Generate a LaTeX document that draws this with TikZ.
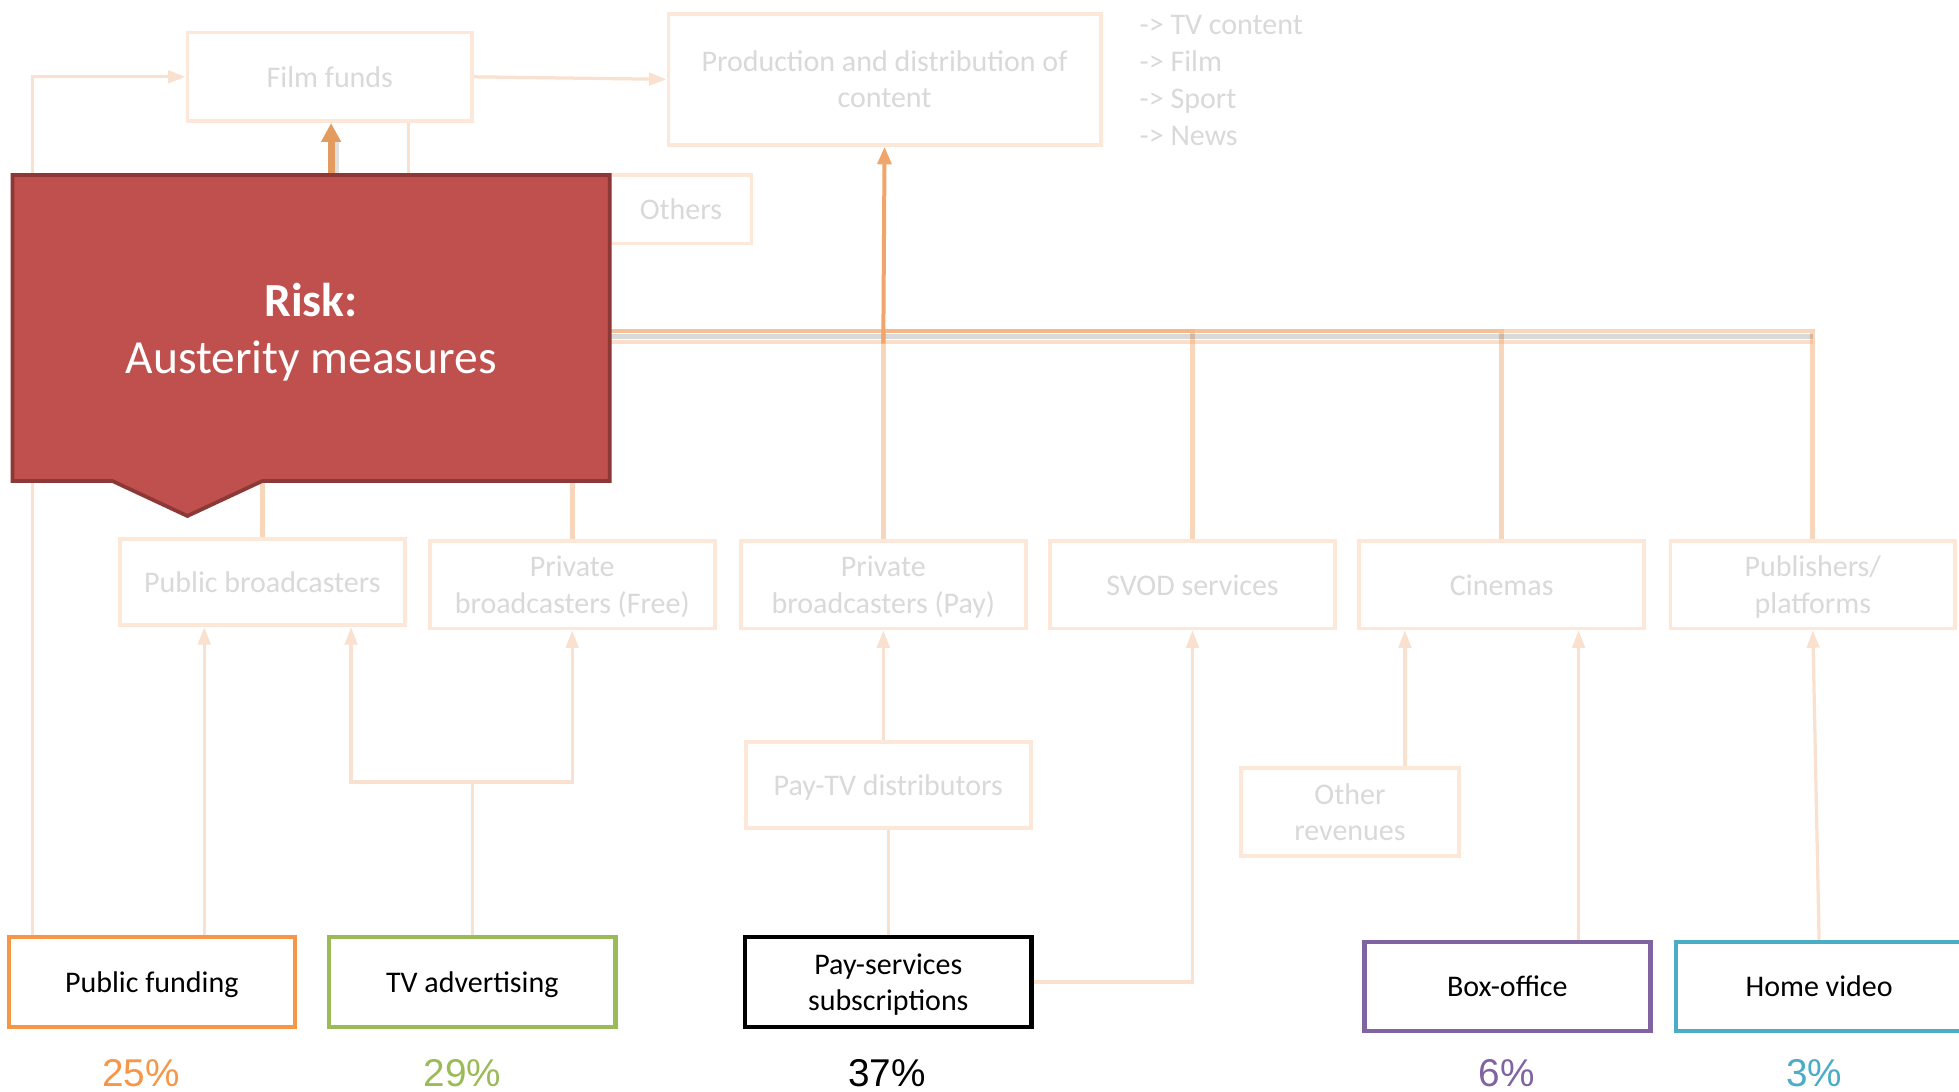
\documentclass[tikz,border=0pt]{standalone}
\usepackage{fontspec}
\setmainfont{Carlito}
\newfontfamily\pctfont{Liberation Sans}
\usetikzlibrary{arrows.meta,backgrounds}

\definecolor{riskfill}{HTML}{C0504D}
\definecolor{riskline}{HTML}{8C3836}
\definecolor{fadeline}{HTML}{FCE7D8}
\definecolor{fadetext}{HTML}{D9D9D9}
\definecolor{linklow}{HTML}{FAE0CE}
\definecolor{linktree}{HTML}{F2AD78}
\definecolor{linkhot}{HTML}{F2A56A}
\definecolor{linkfilm}{HTML}{E39B5F}
\definecolor{fundorange}{HTML}{F79646}
\definecolor{adgreen}{HTML}{9BBB59}
\definecolor{boxpurple}{HTML}{8064A2}
\definecolor{videoteal}{HTML}{4BACC6}

\begin{document}
\begin{tikzpicture}[x=1pt,y=-1pt,
  faded/.style={draw=fadeline, line width=3pt, fill=white, text=fadetext,
    align=center, minimum width=228pt, minimum height=70pt, inner sep=2pt,
    text depth=0pt, font=\fontsize{24}{29}\selectfont},
  srcbox/.style={line width=3.5pt, fill=white, text=black, align=center,
    minimum width=229pt, minimum height=72pt, inner sep=2pt,
    text depth=0pt, font=\fontsize{24}{29}\selectfont},
  pct/.style={font=\pctfont\fontsize{31}{36}\selectfont},
  lowlink/.style={draw=linklow, line width=2.6pt},
  lowarrow/.style={lowlink, -{Triangle[length=14pt,width=10pt]}},
  treelink/.style={draw=linktree, line width=3.8pt, opacity=0.5},
]
\useasboundingbox (0,0) rectangle (1568,874);
\clip (0,0) rectangle (1568,874);

% upper row: funding and production
\node[faded, minimum width=228pt, minimum height=71pt] (film) at (264,61.5) {Film funds};
\node[faded, minimum width=346pt, minimum height=105pt] (prod) at (708,63.5)
  {Production and distribution of\\content};
\node[anchor=west, text=fadetext, align=left, inner sep=0pt,
  font=\fontsize{24}{29.7}\selectfont] (genres) at (912,64.5)
  {-> TV content\\-> Film\\-> Sport\\-> News};
\node[faded, minimum width=113pt, minimum height=55pt] (others) at (545,167.5) {Others};

% middle row: broadcasters and outlets
\node[faded, minimum height=69pt] (pubb) at (210,466) {Public broadcasters};
\node[faded] (privfree) at (458,468) {Private\\broadcasters (Free)};
\node[faded] (privpay) at (707,468) {Private\\broadcasters (Pay)};
\node[faded] (svod) at (954.5,468) {SVOD services};
\node[faded] (cinemas) at (1202,468) {Cinemas};
\node[faded] (publ) at (1451,468) {Publishers/\\platforms};

\node[faded, minimum height=69pt] (paytv) at (711,628.5) {Pay-TV distributors};
\node[faded, minimum width=175pt] (otherrev) at (1080.5,650) {Other\\revenues};

% revenue sources
\node[srcbox, draw=fundorange] (pubfund) at (121.5,786) {Public funding};
\node[srcbox, draw=adgreen] (tvad) at (378,786) {TV advertising};
\node[srcbox, draw=black] (paysub) at (711,786) {Pay-services\\subscriptions};
\node[srcbox, draw=boxpurple, minimum height=71pt] (boxoff) at (1206.5,789.5) {Box-office};
\node[srcbox, draw=videoteal, minimum height=71pt] (homevid) at (1456,789.5) {Home video};

\node[pct, text=fundorange] (pfund) at (113,859) {25\%};
\node[pct, text=adgreen] (pad) at (370,859) {29\%};
\node[pct, text=black] (psub) at (710,859) {37\%};
\node[pct, text=boxpurple] (pbox) at (1206,859) {6\%};
\node[pct, text=videoteal] (pvid) at (1452,859) {3\%};

\coordinate (hub) at (707,265);
\coordinate (adhub) at (378,626);
\coordinate (ffsrc) at (265,215);

\begin{pgfonlayer}{background}
  % flows into production
  \draw[treelink] (pubb.north) |- (hub);
  \draw[treelink] (privfree.north) |- (hub);
  \draw[treelink] (privpay.north) -- (hub);
  \draw[treelink] (svod.north) |- (hub);
  \draw[treelink] (cinemas.north) |- (hub);
  \draw[treelink] (publ.north) |- (hub);
  % soft shadow and light edge under the trunk line
  \draw[black, opacity=0.15, line width=4pt] ([yshift=-4.5pt]pubb.north |- hub) -- ([yshift=-4.5pt]publ.north |- hub);
  \draw[linktree, opacity=0.4, line width=3.5pt] ([yshift=-8.5pt]pubb.north |- hub) -- ([yshift=-8.5pt]publ.north |- hub);
  \draw[linkhot, line width=3.2pt, -{Triangle[length=14pt,width=11pt]}] ([yshift=-10pt]hub) -- (prod.south);

  % film funds
  \draw[black, opacity=0.12, line width=6pt] ([xshift=3pt]ffsrc) -- ([xshift=3pt,yshift=-14pt]ffsrc |- film.south);
  \draw[linkfilm, line width=5.5pt, -{Triangle[length=15pt,width=15pt]}] (ffsrc) -- (ffsrc |- film.south);
  \draw[lowlink] ([xshift=63pt]film.south) -- ++(0,100);
  \draw[lowarrow] (film.east) -- (prod.west);
  \draw[lowarrow] ([xshift=21pt]pubfund.north west) |- (film.west);

  % revenues into outlets
  \draw[lowarrow] ([xshift=42pt]pubfund.north) -- ([xshift=42pt]pubfund.north |- pubb.south);
  \draw[lowlink] (tvad.north) -- (adhub);
  \draw[lowarrow] (adhub) -| ([xshift=71pt]pubb.south);
  \draw[lowarrow] (adhub) -| (privfree.south);
  \draw[lowlink] (paysub.north) -- (paytv.south);
  \draw[lowarrow] (paytv.north -| privpay.south) -- (privpay.south);
  \draw[lowarrow] (paysub.east) -| (svod.south);
  \draw[lowarrow] ([xshift=44pt]otherrev.north) -- ([xshift=44pt]otherrev.north |- cinemas.south);
  \draw[lowarrow] ([xshift=57pt]boxoff.north) -- ([xshift=57pt]boxoff.north |- cinemas.south);
  \draw[lowarrow] (homevid.north) -- (publ.south);
\end{pgfonlayer}

% risk callout
\draw[line width=3pt, draw=riskline, fill=riskfill, line join=miter]
  (10,140) -- (488,140) -- (488,385) -- (210,385) -- (150,413) -- (90,385) -- (10,385) -- cycle;
\node[text=white, align=center, text depth=0pt, font=\fontsize{38}{46}\selectfont] (risk) at (249,263)
  {\textbf{Risk:}\\Austerity measures};
\end{tikzpicture}
\end{document}
